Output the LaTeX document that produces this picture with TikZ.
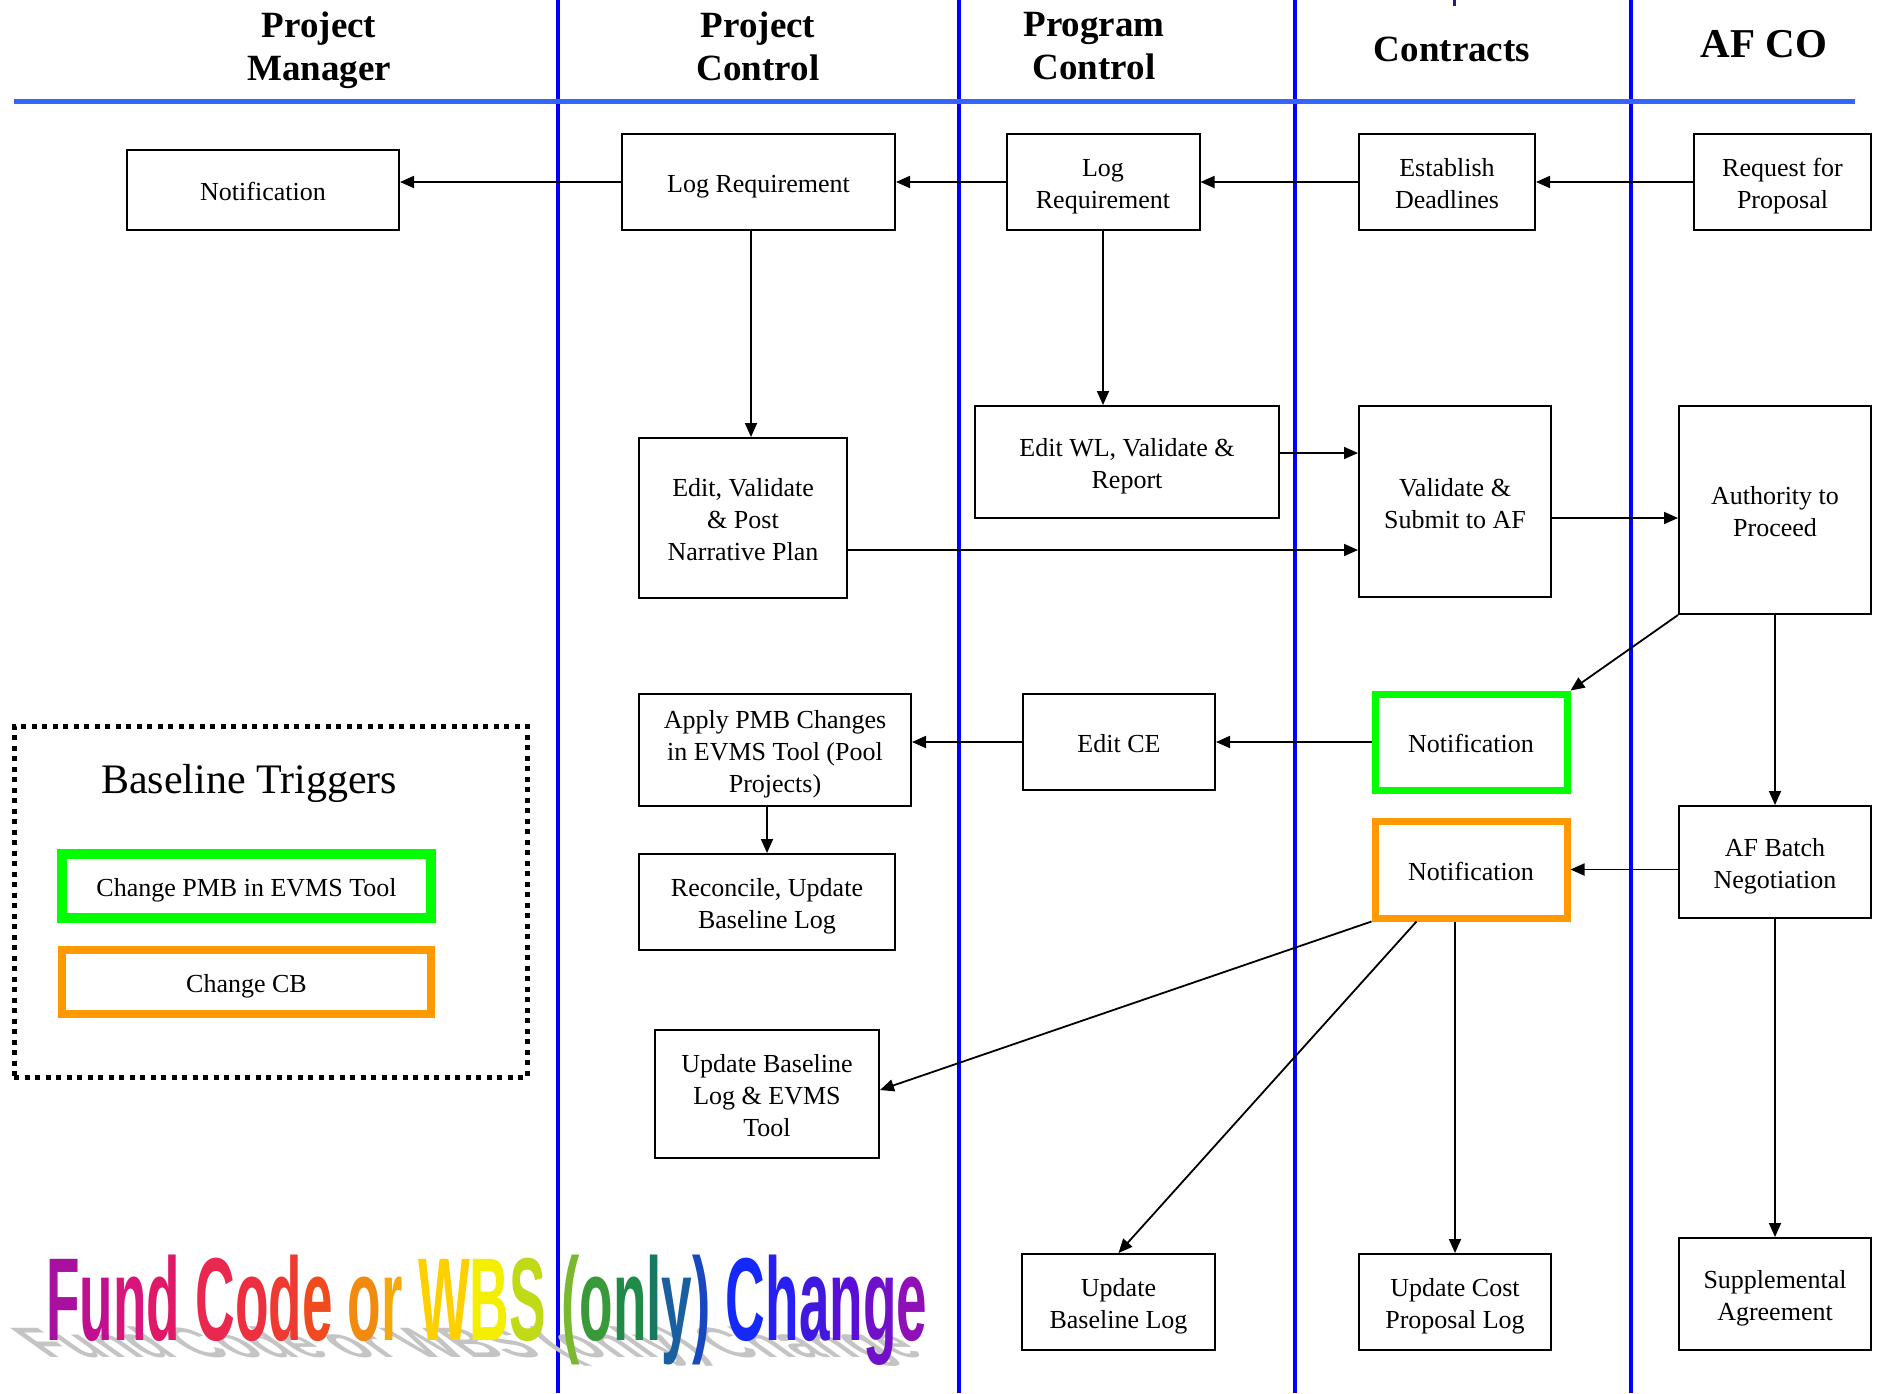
\documentclass[tikz,border=0pt]{standalone}
\usepackage{fontspec}
\setmainfont{Liberation Serif}
\newfontfamily\wafont{Liberation Sans}
\usetikzlibrary{arrows.meta}

% lane and trigger colours
\definecolor{laneblue}{HTML}{0000FF}
\definecolor{headblue}{HTML}{3366FF}
\definecolor{ticknavy}{HTML}{202080}
\definecolor{trigGreen}{HTML}{00FF00}
\definecolor{trigOrange}{HTML}{FF9900}
\definecolor{shadowgrey}{HTML}{C4C4C4}

% rainbow letters of the banner
\definecolor{waa}{HTML}{A8109F}
\definecolor{wab}{HTML}{C01090}
\definecolor{wac}{HTML}{D8157A}
\definecolor{wad}{HTML}{E01868}
\definecolor{wae}{HTML}{E8284F}
\definecolor{waf}{HTML}{EC3040}
\definecolor{wag}{HTML}{EE3A30}
\definecolor{wah}{HTML}{F04A1E}
\definecolor{wai}{HTML}{F28A10}
\definecolor{waj}{HTML}{F5A808}
\definecolor{wak}{HTML}{FFD000}
\definecolor{wal}{HTML}{F4EE00}
\definecolor{wam}{HTML}{C0DA18}
\definecolor{wan}{HTML}{7AB830}
\definecolor{wao}{HTML}{3A9A3A}
\definecolor{wap}{HTML}{208A48}
\definecolor{waq}{HTML}{187860}
\definecolor{war}{HTML}{1A60A0}
\definecolor{was}{HTML}{1848C0}
\definecolor{wat}{HTML}{1428F8}
\definecolor{wau}{HTML}{2820F0}
\definecolor{wav}{HTML}{4018E0}
\definecolor{waw}{HTML}{5810D8}
\definecolor{wax}{HTML}{7010C8}
\definecolor{way}{HTML}{9010B8}

\newcommand\colletter[2]{\textcolor{#1}{#2}}
\newcommand\plainletter[2]{#2}
\newcommand\fundtext[1]{%
#1{waa}{F}#1{wab}{u}#1{wac}{n}#1{wad}{d}\ %
#1{wae}{C}#1{waf}{o}#1{wag}{d}#1{wah}{e}\ %
#1{wai}{o}#1{waj}{r}\ %
#1{wak}{W}#1{wal}{B}#1{wam}{S}\ %
#1{wan}{(}#1{wao}{o}#1{wap}{n}#1{waq}{l}#1{war}{y}#1{was}{)}\ %
#1{wat}{C}#1{wau}{h}#1{wav}{a}#1{waw}{n}#1{wax}{g}#1{way}{e}}

\newcommand\bxfont{\fontsize{26}{32}\selectfont}
\newcommand\hdfont{\bfseries\fontsize{37}{43}\selectfont}
\newcommand\bannerfont{\wafont\bfseries\fontsize{118}{118}\selectfont}

\begin{document}
\begin{tikzpicture}[x=1pt,y=-1pt,
  box/.style={draw=black, line width=2pt, fill=white, align=center,
    inner sep=0pt, font=\bxfont, text height=27pt, text depth=5.5pt},
  two lines/.style={text height=59pt},
  three lines/.style={text height=91pt},
  trigbox/.style={box, line width=7pt},
  head/.style={align=center, inner sep=0pt, font=\hdfont},
  arr/.style={line width=1.8pt, -{Triangle[length=14pt,width=12pt]}},
  lane/.style={draw=laneblue, line width=3.5pt},
  banner/.style={anchor=base west, inner sep=0pt, font=\bannerfont}]
\useasboundingbox (0,0) rectangle (1879,1393);

% swim lanes and header rule
\foreach \lx in {558,959,1295,1631} \draw[lane] (\lx,0) -- (\lx,1393);
\draw[headblue, line width=5pt] (14,101) -- (1855,101);
\draw[ticknavy, line width=3pt] (1454,0) -- (1454,6);

% lane headings
\node[head] (hPM) at (319,50) {Project\\Manager};
\node[head] (hPC) at (758,46) {Project\\Control};
\node[head] (hPG) at (1094,46) {Program\\Control};
\node[head] (hCT) at (1452,49) {Contracts};
\node[head, font=\bfseries\fontsize{41}{48}\selectfont] (hAF) at (1764,44) {AF CO};

% process boxes
\node[box, minimum width=272pt, minimum height=80pt] (pmNote) at (263,190) {Notification};
\node[box, minimum width=273pt, minimum height=96pt] (pcLog) at (758.5,182) {Log Requirement};
\node[box, two lines, minimum width=193pt, minimum height=96pt] (pgLog) at (1103,182) {Log\\Requirement};
\node[box, two lines, minimum width=176pt, minimum height=96pt] (ctDead) at (1447,182) {Establish\\Deadlines};
\node[box, two lines, minimum width=177pt, minimum height=96pt] (afRfp) at (1782.5,182) {Request for\\Proposal};

\node[box, three lines, minimum width=208pt, minimum height=160pt] (pcEdit) at (743,518) {Edit, Validate\\\& Post\\Narrative Plan};
\node[box, two lines, minimum width=304pt, minimum height=112pt] (pgEdit) at (1127,462) {Edit WL, Validate \&\\Report};
\node[box, two lines, minimum width=192pt, minimum height=191pt] (ctValid) at (1455,501.5) {Validate \&\\Submit to AF};
\node[box, two lines, minimum width=192pt, minimum height=208pt] (afAuth) at (1775,510) {Authority to\\Proceed};

\node[box, three lines, minimum width=272pt, minimum height=112pt] (pcApply) at (775,750) {Apply PMB Changes\\in EVMS Tool (Pool\\Projects)};
\node[box, minimum width=192pt, minimum height=96pt] (pgCE) at (1119,742) {Edit CE};
\node[trigbox, draw=trigGreen, minimum width=192pt, minimum height=96pt] (ctNoteG) at (1471,742) {Notification};

\node[box, two lines, minimum width=256pt, minimum height=96pt] (pcRecon) at (767,902) {Reconcile, Update\\Baseline Log};
\node[trigbox, draw=trigOrange, minimum width=192pt, minimum height=97pt] (ctNoteO) at (1471,869.5) {Notification};
\node[box, two lines, minimum width=192pt, minimum height=112pt] (afBatch) at (1775,862) {AF Batch\\Negotiation};

\node[box, three lines, minimum width=224pt, minimum height=128pt] (pcUpd) at (767,1094) {Update Baseline\\Log \& EVMS\\Tool};
\node[box, two lines, minimum width=193pt, minimum height=96pt] (pgUpd) at (1118.5,1302) {Update\\Baseline Log};
\node[box, two lines, minimum width=192pt, minimum height=96pt] (ctUpd) at (1455,1302) {Update Cost\\Proposal Log};
\node[box, two lines, minimum width=192pt, minimum height=112pt] (afSupp) at (1775,1294) {Supplemental\\Agreement};

% helper coordinates for connector rows and columns
\coordinate (colPC) at (751,0);
\coordinate (rowWL) at (0,453);
\coordinate (rowNP) at (0,550);
\coordinate (rowAF) at (0,518);

% connectors
\draw[arr] (pcLog.west) -- (pcLog.west -| pmNote.east);
\draw[arr] (pgLog.west) -- (pcLog.east);
\draw[arr] (ctDead.west) -- (pgLog.east);
\draw[arr] (afRfp.west) -- (ctDead.east);
\draw[arr] (pcLog.south -| colPC) -- (pcEdit.north -| colPC);
\draw[arr] (pgLog.south) -- (pgLog.south |- pgEdit.north);
\draw[arr] (pgEdit.east |- rowWL) -- (ctValid.west |- rowWL);
\draw[arr] (pcEdit.east |- rowNP) -- (ctValid.west |- rowNP);
\draw[arr] (ctValid.east |- rowAF) -- (afAuth.west |- rowAF);
\draw[arr] (afAuth.south west) -- (ctNoteG.north east);
\draw[arr] (afAuth.south) -- (afBatch.north);
\draw[arr] (ctNoteG.west) -- (pgCE.east);
\draw[arr] (pgCE.west) -- (pgCE.west -| pcApply.east);
\draw[arr] (pcRecon.north |- pcApply.south) -- (pcRecon.north);
\draw[arr] (ctNoteO.east -| afBatch.west) -- (ctNoteO.east);
\draw[arr] (ctNoteO.south west) -- ([yshift=4pt]pcUpd.east);
\draw[arr] ([xshift=45pt]ctNoteO.south west) -- (pgUpd.north);
\draw[arr] (ctUpd.north |- ctNoteO.south) -- (ctUpd.north);
\draw[arr] (afBatch.south) -- (afSupp.north);

% trigger legend
\node[draw=black, line width=5pt, dash pattern=on 5pt off 5.5pt, minimum width=513pt,
  minimum height=351pt, inner sep=0pt] (legend) at (270.5,901.5) {};
\node[inner sep=0pt, font=\fontsize{42}{50}\selectfont] (legTitle) at (249,783) {Baseline Triggers};
\node[box, draw=trigGreen, line width=10pt, minimum width=369pt, minimum height=64pt] (legG) at (246.5,886) {Change PMB in EVMS Tool};
\node[box, draw=trigOrange, line width=8pt, minimum width=369pt, minimum height=64pt] (legO) at (246.5,982) {Change CB};

% banner: cast shadow under the rainbow letters
\begin{scope}[shift={(47,1357)}, xslant=-1.4, yscale=0.36]
  \node[banner, transform shape, text=shadowgrey] (bannerShadow) at (0,0)
    {\scalebox{0.465}[1]{\fundtext\plainletter}};
\end{scope}
\node[banner] (banner) at (46,1340) {\scalebox{0.465}[1]{\fundtext\colletter}};
\end{tikzpicture}
\end{document}
